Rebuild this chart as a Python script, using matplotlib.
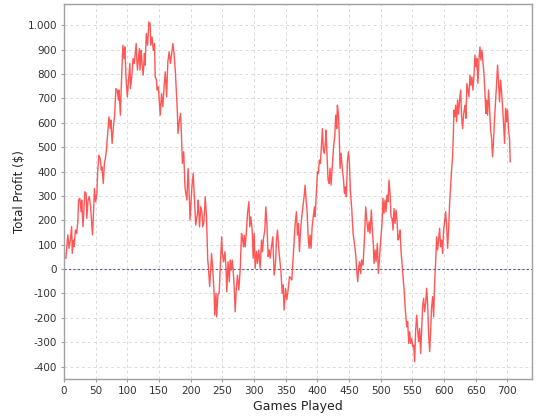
import matplotlib
matplotlib.use("Agg")
import matplotlib.pyplot as plt
from matplotlib.ticker import MultipleLocator, FuncFormatter

# games played vs. running profit
games = [
    3, 6, 8, 10, 12, 13, 15, 16, 18, 20, 22, 23, 25, 27, 28, 30, 33, 35, 36, 38,
    40, 42, 43, 45, 47, 48, 50, 52, 53, 55, 57, 59, 60, 62, 64, 65, 67, 69, 71, 73,
    74, 76, 78, 80, 82, 84, 86, 87, 89, 91, 93, 95, 96, 98, 100, 102, 104, 105, 107, 109,
    111, 114, 115, 116, 119, 120, 122, 123, 125, 127, 128, 130, 132, 134, 136, 137, 139, 141, 143, 144,
    146, 147, 149, 152, 154, 156, 158, 160, 162, 164, 166, 168, 170, 172, 174, 176, 179, 180, 182, 184,
    185, 187, 189, 191, 194, 196, 198, 199, 202, 204, 206, 208, 211, 212, 214, 216, 218, 219, 221, 223,
    225, 227, 228, 230, 232, 233, 235, 237, 238, 240, 241, 243, 245, 247, 249, 250, 252, 254, 256, 257,
    259, 261, 262.4, 264.5, 265.6, 267.1, 268.7, 270.3, 271.9, 274, 276.1, 278.2, 280.3, 281.9, 283.4, 284.5, 286.1, 288.2, 289.8, 291.9,
    293.4, 295, 297.1, 298.7, 300.3, 301.9, 304, 305.5, 307.6, 309.7, 311.9, 313.4, 315, 317.1, 318.7, 320.3, 322.4, 324, 325.5, 327.6,
    329.7, 331.8, 334, 335.5, 337.1, 339.7, 342.4, 344.5, 346, 347.6, 349.7, 351.8, 353.9, 356, 358.1, 359.7, 360.7, 362.8, 364.9, 367,
    368.6, 370.2, 371.8, 373.3, 375.4, 377.6, 379.1, 380.7, 382.3, 383.9, 385.4, 387, 388.6, 390.2, 391.8, 393.3, 395.4, 396.5, 398.6, 400.2,
    401.7, 403.3, 404.9, 406.5, 408, 409.6, 411.2, 412.8, 413.8, 415.4, 417, 418.6, 420.2, 421.7, 423.8, 425.9, 427.5, 429.1, 430.7, 431.7,
    433.3, 434.4, 435.9, 437.5, 439.6, 441.2, 442.8, 444.4, 445.9, 447.5, 449.1, 450.7, 452.2, 454.3, 456.5, 458.6, 460.7, 462.2, 463.8, 465.4,
    467, 468.5, 470.1, 472.2, 474.3, 476.4, 478, 480.1, 481.7, 483.2, 485.3, 486.9, 488.5, 489.5, 491.1, 492.7, 494.8, 496.4, 498, 500.1,
    502.2, 503.7, 505.3, 506.9, 508.5, 510, 511.6, 513.2, 514.8, 516.4, 518, 519.5, 521.1, 522.7, 524.3, 525.8, 527.4, 529, 530.6, 532.1,
    533.7, 535.8, 537.4, 539, 541.1, 542.7, 544.3, 545.8, 547.4, 549, 550.6, 552.1, 553.7, 555.3, 556.9, 558.4, 560, 561.6, 563.2, 564.8,
    566.3, 567.9, 569.5, 571.1, 572.6, 574.2, 575.8, 577.4, 579, 580.5, 582.1, 583.7, 585.3, 587, 588.4, 590, 591.5, 593.1, 594.7, 596.3,
    597.8, 599.4, 601, 602.6, 604.2, 605.7, 607.3, 608.9, 610.5, 612, 613.6, 614.7, 615.7, 617.3, 618.4, 620, 621.5, 623.1, 624.7, 626.3,
    627.8, 629.4, 631, 633.1, 634.7, 636.2, 637.8, 639.4, 641, 642.6, 644.1, 645.7, 647.3, 648.9, 650.4, 652, 653.6, 655.2, 656.8, 658.3,
    659.9, 661.5, 663.1, 664.6, 666.2, 667.3, 668.9, 670.4, 672, 673.6, 675.2, 676.7, 678.3, 679.9, 681.5, 683.1, 684.6, 686.2, 687.8, 689.4,
    691, 692.5, 694.1, 695.7, 697.3, 698.8, 700.4, 702, 703.6, 704.6,
]

profit = [
    44, 140, 85, 119, 174, 64, 119, 92, 160, 146, 201, 283, 290, 235, 283, 174, 317, 310, 208, 283,
    297, 256, 215, 140, 256, 331, 276, 310, 392, 467, 454, 406, 419, 351, 440, 447, 488, 556, 624, 577,
    611, 515, 583, 631, 740, 734, 693, 734, 631, 788, 918, 863, 911, 781, 706, 775, 843, 740, 788, 863,
    843, 925, 857, 816, 904, 816, 897, 850, 795, 884, 836, 966, 918, 1013, 1006, 918, 952, 897, 925, 788,
    775, 734, 747, 631, 720, 666, 747, 809, 706, 850, 891, 843, 884, 925, 877, 802, 645, 556, 604, 638,
    583, 433, 481, 337, 283, 413, 283, 201, 337, 392, 283, 180, 234, 283, 173, 256, 228, 173, 194, 296,
    215, 37, 10, -72, 10, 64, -4, -99, -189, -99, -196, -105, -99, 23, 132, 64, 30, 71, -4, -93,
    30, -52, 37, -4, 37, -4, -72, -175, -86, -25, -86, -4, 146, 125, 91, 139, 91, 160, 228, 276,
    173, 214, 160, 44, 146, 3, 72, 23, 78, 3, 119, 71, 125, 160, 255, 187, 51, 78, 44, 91,
    132, -25, 23, 119, 160, 64, -4, -99, -65, -168, -79, -126, -86, -31, -38, -45, -4, 91, 180, 235,
    139, 187, 71, 146, 215, 262, 296, 344, 283, 235, 139, 85, 139, 85, 173, 208, 255, 215, 324, 399,
    392, 447, 433, 508, 576, 488, 475, 522, 570, 461, 365, 351, 413, 344, 426, 508, 542, 631, 576, 672,
    638, 570, 413, 475, 406, 372, 310, 337, 296, 440, 481, 433, 324, 249, 146, 105, 57, -4, -52, 9,
    30, -18, 37, 16, 119, 255, 201, 153, 194, 146, 242, 160, 98, 23, 78, 30, 105, -18, 37, 119,
    187, 290, 228, 283, 235, 303, 276, 365, 310, 214, 208, 160, 248, 187, 242, 201, 119, 132, 160, 78,
    23, -45, -99, -168, -237, -216, -305, -257, -305, -285, -318, -312, -380, -250, -189, -250, -298, -244, -346, -244,
    -155, -120, -175, -141, -79, -141, -271, -339, -250, -155, -113, -196, -52, 37, 132, 78, 119, 167, 91, 119,
    64, 160, 194, 235, 180, 85, 160, 269, 337, 406, 460, 542, 652, 625, 672, 604, 693, 635, 693, 734,
    625, 576, 635, 672, 618, 761, 734, 706, 795, 754, 788, 734, 788, 877, 829, 863, 761, 857, 911, 857,
    898, 850, 802, 727, 638, 693, 631, 734, 659, 570, 536, 460, 529, 618, 686, 761, 836, 768, 686, 775,
    727, 665, 597, 515, 659, 604, 652, 570, 529, 440,
]

x_ticks_step = 50
y_ticks_step = 100


def thousands(v, pos):
    return "{:,}".format(int(round(v))).replace(",", ".")


def main():
    fig = plt.figure(figsize=(5.4, 4.2), dpi=100)
    ax = fig.add_axes([64 / 540, 1 - 379 / 420, 468 / 540, 375 / 420])

    ax.plot(games, profit, color="#ff4444", lw=1.0, alpha=0.9, zorder=3)
    ax.axhline(0, color="#55558f", lw=0.8, ls=(0, (2, 2)), zorder=2)

    ax.set_xlim(0, 739)
    ax.set_ylim(-451, 1087)
    ax.xaxis.set_major_locator(MultipleLocator(x_ticks_step))
    ax.yaxis.set_major_locator(MultipleLocator(y_ticks_step))
    ax.yaxis.set_major_formatter(FuncFormatter(thousands))

    ax.grid(True, color="#dadada", lw=0.7, ls=(0, (3, 3)), zorder=0)
    ax.set_axisbelow(True)
    for side in ["left", "bottom", "top", "right"]:
        ax.spines[side].set_color("#a0a0a0")
        ax.spines[side].set_linewidth(1.0)
    ax.tick_params(colors="#a0a0a0", labelcolor="#333333", length=2, width=0.8,
                   labelsize=7.5, pad=3)

    ax.set_xlabel("Games Played", fontsize=9, color="#222222", labelpad=3)
    ax.set_ylabel("Total Profit ($)", fontsize=8.5, color="#222222", labelpad=1)

    fig.savefig("out.png", dpi=100, facecolor="white")


if __name__ == "__main__":
    main()
